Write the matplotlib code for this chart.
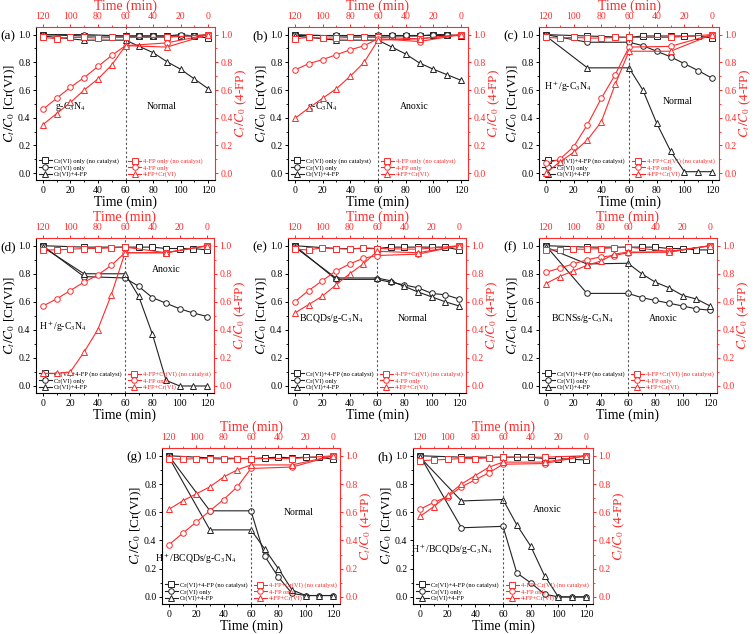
import matplotlib
matplotlib.use("Agg")
import matplotlib.pyplot as plt
from matplotlib.ticker import MultipleLocator, FormatStrFormatter

plt.rcParams["font.family"] = ["Liberation Serif", "DejaVu Serif"]
plt.rcParams["mathtext.fontset"] = "stix"

RED = "#ff2a2a"

# sampling times (min); black series on bottom axis, red series on top (reversed) axis
t = [0, 30, 60, 70, 80, 90, 100, 110, 120]

panels = ["a", "b", "c", "d", "e", "f", "g", "h"]
catalysts = [r"g-C$_3$N$_4$", r"g-C$_3$N$_4$", r"H$^+$/g-C$_3$N$_4$", r"H$^+$/g-C$_3$N$_4$",
             r"BCQDs/g-C$_3$N$_4$", r"BCNSs/g-C$_3$N$_4$",
             r"H$^+$/BCQDs/g-C$_3$N$_4$", r"H$^+$/BCQDs/g-C$_3$N$_4$"]
conditions = ["Normal", "Anoxic", "Normal", "Anoxic", "Normal", "Anoxic", "Normal", "Anoxic"]

# Cr(VI) series (C_t/C_0)
cr_blank = {
    "a": [1.0, 0.99, 0.99, 0.99, 0.99, 0.99, 0.99, 0.99, 0.975],
    "b": [1.0, 0.99, 0.99, 0.99, 0.99, 0.99, 1.0, 1.0, 0.99],
    "c": [1.0, 0.99, 0.98, 0.99, 0.99, 0.99, 0.99, 0.99, 0.975],
    "d": [1.0, 0.99, 0.99, 0.99, 0.99, 0.98, 0.98, 0.98, 0.97],
    "e": [1.0, 0.98, 0.98, 0.99, 0.99, 0.99, 0.99, 0.99, 0.97],
    "f": [1.0, 0.99, 0.99, 0.99, 0.99, 0.98, 0.98, 0.97, 0.97],
    "g": [1.0, 0.985, 0.98, 0.985, 0.99, 0.985, 0.99, 0.99, 0.975],
    "h": [1.0, 0.99, 0.99, 0.99, 0.99, 0.98, 0.98, 0.975, 0.97],
}
cr_only = {
    "a": [1.0, 1.0, 0.99, 0.99, 0.99, 0.99, 1.0, 0.99, 1.0],
    "b": [1.0, 1.0, 1.0, 1.0, 1.0, 1.0, 1.0, 1.0, 1.0],
    "c": [1.0, 0.945, 0.945, 0.92, 0.88, 0.84, 0.79, 0.74, 0.685],
    "d": [1.0, 0.78, 0.77, 0.71, 0.63, 0.59, 0.55, 0.52, 0.495],
    "e": [1.0, 0.76, 0.76, 0.74, 0.72, 0.70, 0.66, 0.65, 0.62],
    "f": [1.0, 0.66, 0.66, 0.63, 0.61, 0.59, 0.57, 0.55, 0.54],
    "g": [1.0, 0.61, 0.61, 0.29, 0.14, 0.025, 0.01, 0.01, 0.01],
    "h": [1.0, 0.49, 0.50, 0.17, 0.10, 0.02, 0.0, 0.0, 0.0],
}
cr_fp = {
    "a": [0.99, 0.96, 0.96, 0.915, 0.87, 0.805, 0.75, 0.68, 0.61],
    "b": [0.99, 0.96, 0.96, 0.91, 0.86, 0.795, 0.75, 0.71, 0.67],
    "c": [0.99, 0.76, 0.76, 0.60, 0.36, 0.16, 0.01, 0.01, 0.01],
    "d": [0.99, 0.80, 0.80, 0.64, 0.37, 0.04, 0.0, 0.0, 0.0],
    "e": [0.99, 0.77, 0.77, 0.75, 0.71, 0.67, 0.635, 0.60, 0.57],
    "f": [0.99, 0.87, 0.875, 0.80, 0.74, 0.70, 0.645, 0.62, 0.57],
    "g": [0.99, 0.475, 0.475, 0.34, 0.20, 0.05, 0.01, 0.01, 0.01],
    "h": [0.99, 0.68, 0.69, 0.51, 0.36, 0.15, 0.0, 0.0, 0.0],
}

# 4-FP series (C_t/C_0)
fp_blank = {
    "a": [1.0, 0.98, 0.98, 0.98, 0.975, 0.98, 0.98, 0.97, 0.98],
    "b": [1.0, 0.97, 0.98, 0.98, 0.98, 0.975, 0.975, 0.98, 0.97],
    "c": [1.0, 0.98, 0.98, 0.98, 0.975, 0.975, 0.98, 0.975, 0.98],
    "d": [1.0, 0.95, 0.99, 0.985, 0.98, 0.98, 0.975, 0.97, 0.97],
    "e": [1.0, 0.975, 0.98, 0.985, 0.975, 0.98, 0.985, 0.97, 0.975],
    "f": [1.0, 0.96, 0.99, 0.985, 0.98, 0.975, 0.975, 0.97, 0.97],
    "g": [1.0, 0.98, 0.98, 0.98, 0.975, 0.98, 0.98, 0.975, 0.98],
    "h": [1.0, 0.99, 0.99, 0.985, 0.98, 0.98, 0.975, 0.97, 0.965],
}
fp_only = {
    "a": [1.0, 0.94, 0.92, 0.85, 0.77, 0.69, 0.62, 0.54, 0.46],
    "b": [1.0, 0.95, 0.97, 0.92, 0.89, 0.855, 0.82, 0.79, 0.745],
    "c": [1.0, 0.915, 0.91, 0.71, 0.54, 0.35, 0.19, 0.10, 0.07],
    "d": [1.0, 0.95, 0.95, 0.86, 0.79, 0.74, 0.68, 0.62, 0.57],
    "e": [1.0, 0.94, 0.93, 0.91, 0.87, 0.82, 0.75, 0.68, 0.60],
    "f": [1.0, 0.955, 0.95, 0.93, 0.92, 0.90, 0.87, 0.84, 0.81],
    "g": [1.0, 0.92, 0.91, 0.78, 0.69, 0.61, 0.53, 0.45, 0.37],
    "h": [1.0, 0.945, 0.94, 0.88, 0.83, 0.78, 0.71, 0.67, 0.62],
}
fp_cr = {
    "a": [1.0, 0.91, 0.92, 0.78, 0.68, 0.60, 0.51, 0.43, 0.35],
    "b": [1.0, 0.97, 0.96, 0.80, 0.70, 0.61, 0.54, 0.47, 0.395],
    "c": [1.0, 0.88, 0.88, 0.64, 0.37, 0.24, 0.15, 0.08, 0.0],
    "d": [1.0, 0.95, 0.95, 0.65, 0.40, 0.24, 0.10, 0.09, 0.09],
    "e": [1.0, 0.95, 0.96, 0.87, 0.80, 0.72, 0.64, 0.58, 0.52],
    "f": [1.0, 0.955, 0.955, 0.94, 0.89, 0.86, 0.82, 0.78, 0.73],
    "g": [1.0, 0.935, 0.935, 0.90, 0.85, 0.78, 0.73, 0.68, 0.62],
    "h": [1.0, 0.955, 0.955, 0.92, 0.86, 0.80, 0.72, 0.64, 0.57],
}

# annotation spots (data coords of the bottom/left axes)
cat_xy = {"a": (20, 0.48), "b": (20, 0.48), "c": (16, 0.62), "d": (15, 0.42),
          "e": (27, 0.48), "f": (27, 0.48), "g": (20, 0.27), "h": (23, 0.33)}
cond_xy = {"a": (86, 0.48), "b": (86, 0.48), "c": (95, 0.52), "d": (90, 0.83),
           "e": (86, 0.48), "f": (86, 0.48), "g": (95, 0.60), "h": (92, 0.62)}

# axes boxes in pixels: left, top, width, height
W, H = 756, 634
boxes = {
    "a": (36, 27, 179, 153), "b": (288, 27, 180, 153), "c": (539, 27, 180, 153),
    "d": (36, 238, 178, 155), "e": (288, 238, 178, 155), "f": (539, 238, 178, 155),
    "g": (162, 448, 178, 156), "h": (413, 448, 180, 156),
}

fig = plt.figure(figsize=(W / 100, H / 100), dpi=100)

for i, p in enumerate(panels):
    l, tp, w, h = boxes[p]
    rect = [l / W, 1 - (tp + h) / H, w / W, h / H]
    ax = fig.add_axes(rect)
    ax2 = fig.add_axes(rect, frameon=False)

    if p in ("a", "b"):
        cr_labels = ["Cr(VI) only (no catalyst)", "Cr(VI) only", "Cr(VI)+4-FP"]
        fp_labels = ["4-FP only (no catalyst)", "4-FP only", "4-FP+Cr(VI)"]
    else:
        cr_labels = ["Cr(VI)+4-FP (no catalyst)", "Cr(VI) only", "Cr(VI)+4-FP"]
        fp_labels = ["4-FP+Cr(VI) (no catalyst)", "4-FP only", "4-FP+Cr(VI)"]

    kw = dict(lw=0.8, ms=4, mew=0.7, mfc="white")
    ax.plot(t, cr_blank[p], "s-", color="#222222", label=cr_labels[0], **kw)
    ax.plot(t, cr_only[p], "o-", color="#222222", label=cr_labels[1], **kw)
    ax.plot(t, cr_fp[p], "^-", color="#222222", label=cr_labels[2], **kw)
    ax2.plot(t, fp_blank[p], "s-", color=RED, label=fp_labels[0], **kw)
    ax2.plot(t, fp_only[p], "o-", color=RED, label=fp_labels[1], **kw)
    ax2.plot(t, fp_cr[p], "^-", color=RED, label=fp_labels[2], **kw)

    ax.axvline(60, color="#555555", ls=(0, (2, 2)), lw=0.8)

    ax.set_xlim(-5, 125)
    ax.set_ylim(-0.05, 1.055)
    ax2.set_xlim(125, -5)
    ax2.set_ylim(-0.05, 1.055)
    for a in (ax, ax2):
        a.xaxis.set_major_locator(MultipleLocator(20))
        a.xaxis.set_minor_locator(MultipleLocator(10))
        a.yaxis.set_major_locator(MultipleLocator(0.2))
        a.yaxis.set_minor_locator(MultipleLocator(0.1))
        a.yaxis.set_major_formatter(FormatStrFormatter("%.1f"))

    ax2.xaxis.tick_top()
    ax2.xaxis.set_label_position("top")
    ax2.yaxis.tick_right()
    ax2.yaxis.set_label_position("right")

    ax.tick_params(labelsize=7, direction="out", length=2.5, width=0.7, pad=1.5)
    ax.tick_params(which="minor", direction="out", length=1.5, width=0.6)
    ax2.tick_params(labelsize=7, direction="out", length=2.5, width=0.7, pad=1.5,
                    colors=RED)
    ax2.tick_params(which="minor", direction="out", length=1.5, width=0.6, colors=RED)
    for s in ax.spines.values():
        s.set_linewidth(0.8)
    ax.spines["right"].set_color(RED)
    ax.spines["top"].set_color(RED)

    ax.set_xlabel("Time (min)", fontsize=10, labelpad=1)
    ax2.set_xlabel("Time (min)", fontsize=10, color=RED, labelpad=2)
    ax.set_ylabel(r"$C_t/C_0$ [Cr(VI)]", fontsize=9.5, labelpad=0)
    ax2.set_ylabel(r"$C_t/C_0$ (4-FP)", fontsize=9.5, color=RED, labelpad=0.5)

    ax.text(*cat_xy[p], catalysts[i], fontsize=7, ha="center", va="center")
    ax.text(*cond_xy[p], conditions[i], fontsize=7, ha="center", va="center")
    ax.text(-0.2, 0.94, "(%s)" % p, transform=ax.transAxes, fontsize=9.5,
            ha="left", va="center")

    ax.legend(loc="lower left", bbox_to_anchor=(0.0, 0.0), frameon=False,
              fontsize=4.7, handlelength=2.0, labelspacing=0.12, borderpad=0.3,
              handletextpad=0.3, borderaxespad=0.1)
    ax2.legend(loc="lower left", bbox_to_anchor=(0.5, 0.0), frameon=False,
               fontsize=4.7, handlelength=2.0, labelspacing=0.12, borderpad=0.3,
               handletextpad=0.3, borderaxespad=0.1, labelcolor=RED)

fig.savefig("out.png", dpi=100)
